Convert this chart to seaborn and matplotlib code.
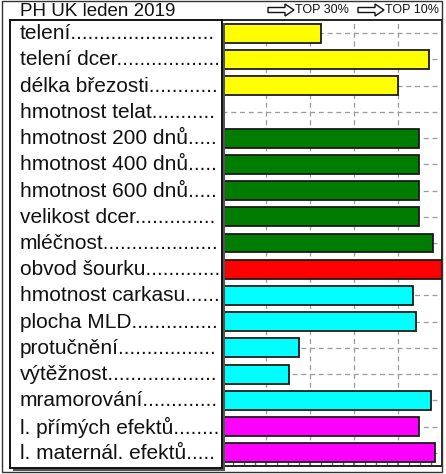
import numpy as np
import matplotlib
matplotlib.use("Agg")
import matplotlib.pyplot as plt
import seaborn as sns
from matplotlib.patches import Rectangle, FancyArrow

# ================= data =================
labels = ["telení", "telení dcer", "délka březosti", "hmotnost telat",
          "hmotnost 200 dnů", "hmotnost 400 dnů", "hmotnost 600 dnů",
          "velikost dcer", "mléčnost", "obvod šourku", "hmotnost carkasu",
          "plocha MLD", "protučnění", "výtěžnost", "mramorování",
          "l. přímých efektů", "l. maternál. efektů"]
values = [45, 94, 80, 0,
          89.5, 89.5, 89.5,
          89.5, 96, 100, 87,
          88, 35, 30.5, 95,
          89.5, 97]
colors = ["#FFFF00", "#FFFF00", "#FFFF00", "#FFFF00",
          "#007D00", "#007D00", "#007D00",
          "#007D00", "#007D00", "#FF0000", "#00FFFF",
          "#00FFFF", "#00FFFF", "#00FFFF", "#00FFFF",
          "#FF00FF", "#FF00FF"]
title = "PH UK leden 2019"
top_labels = ["TOP 30%", "TOP 10%"]
# ========================================

sns.set_theme(style="white")
plt.rcParams['font.family'] = ['Liberation Sans', 'DejaVu Sans']

W, H = 446, 474
fig = plt.figure(figsize=(W / 100, H / 100), dpi=100)
fig.patch.set_facecolor("white")

def fx(px):
    return px / W

def fy(py):
    return 1 - py / H

# outer frame
fig.add_artist(Rectangle((fx(2), fy(472)), fx(440), 471.5 / H, transform=fig.transFigure,
                         fill=False, edgecolor="#333333", lw=1.0))

# bar axes
ax = fig.add_axes([fx(222), fy(466), fx(220), 446 / H])
sns.barplot(x=values, y=labels, hue=labels, palette=colors, legend=False,
            orient="h", width=0.72, edgecolor="#1a1a1a", linewidth=1.3,
            saturation=1, ax=ax, zorder=3)
ax.set_xlim(0, 100)
ax.set_ylim(len(labels) - 0.5, -0.5)
ax.set_xticks([0, 20, 40, 60, 80, 100])
ax.set_xticks(np.arange(0, 101, 5), minor=True)
ax.set_xticklabels([])
ax.set_yticks(range(len(labels)))
ax.set_yticklabels([])
ax.set_xlabel("")
ax.set_ylabel("")
ax.grid(True, axis="both", which="major", linestyle=(0, (4, 3)), color="#9a9a9a", lw=0.9, zorder=0)
ax.tick_params(axis="x", which="both", direction="in", bottom=True, length=3, color="#666666")
ax.tick_params(axis="y", left=False)
for s in ax.spines.values():
    s.set_color("#222222")
    s.set_linewidth(1.4)

# label box with shadow
box_l, box_t, box_w, box_h = 10, 20, 212, 448
fig.add_artist(Rectangle((fx(box_l + 3), fy(box_t + box_h + 3)), fx(box_w), box_h / H,
                         transform=fig.transFigure, facecolor="#555555", edgecolor="none", zorder=1))
ax_lab = fig.add_axes([fx(box_l), fy(box_t + box_h), fx(box_w), box_h / H], zorder=2)
ax_lab.set_facecolor("white")
ax_lab.set_xlim(0, 1)
ax_lab.set_ylim(len(labels) - 0.5 + 0.08, -0.5)
ax_lab.set_xticks([])
ax_lab.set_yticks([])
for s in ax_lab.spines.values():
    s.set_color("#111111")
    s.set_linewidth(1.4)

# labels with dot leaders filled up to the box edge
renderer = fig.canvas.get_renderer()
right_edge = box_l + box_w - 2  # px
for i, lab in enumerate(labels):
    t = ax_lab.text(0.045, i + 0.02, lab, fontsize=15, va="center", ha="left", color="#111111")
    n = 0
    while True:
        t.set_text(lab + "." * (n + 1))
        bb = t.get_window_extent(renderer)
        if bb.x1 > right_edge:
            t.set_text(lab + "." * n)
            break
        n += 1

# title
fig.text(fx(20), fy(11.5), title, fontsize=13.5, va="center", ha="left", color="#111111")

# TOP arrows
for x0, txt in zip([268, 358], top_labels):
    fig.add_artist(FancyArrow(fx(x0), fy(10), fx(26), 0, width=5 / H, head_width=12 / H,
                              head_length=fx(9), length_includes_head=True,
                              transform=fig.transFigure, facecolor="white",
                              edgecolor="#111111", lw=1.0))
    fig.text(fx(x0 + 27), fy(10), txt, fontsize=9, va="center", ha="left", color="#111111")

fig.savefig("out.png", dpi=100)
